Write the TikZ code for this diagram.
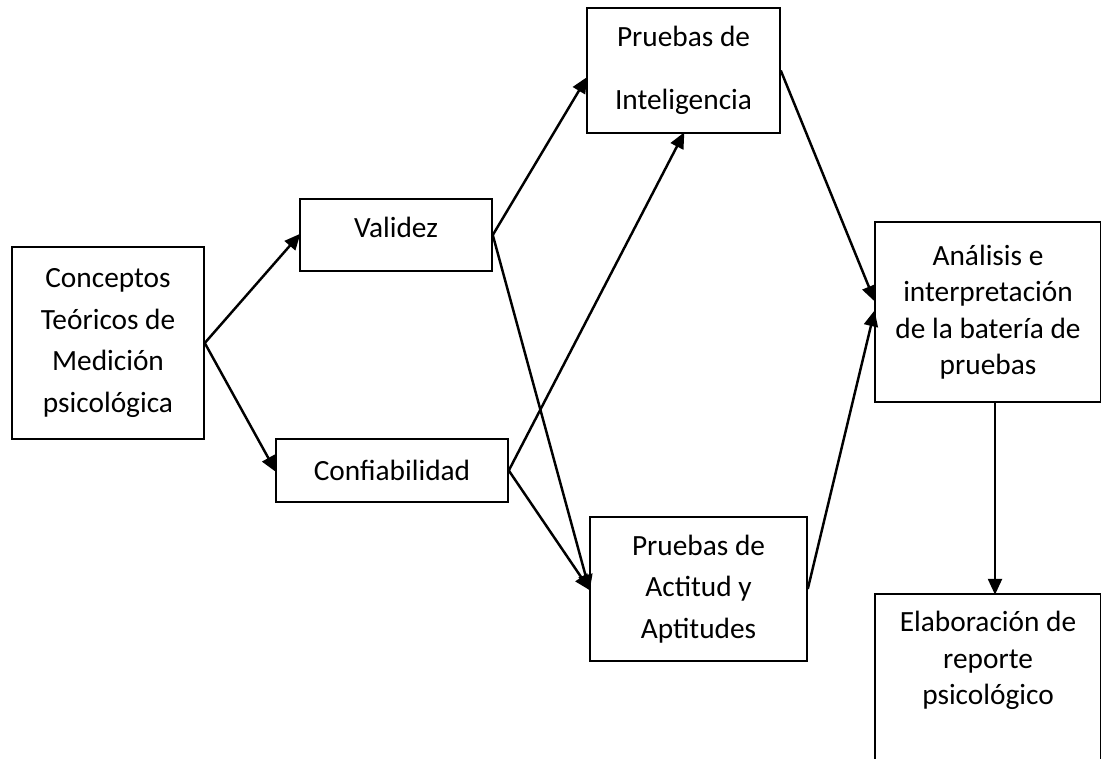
\documentclass[tikz,border=0pt]{standalone}
\usepackage{fontspec}
\setmainfont{Carlito}
\usetikzlibrary{arrows.meta}

\begin{document}
\begin{tikzpicture}[>={Triangle[length=0.32cm,width=0.28cm]},x=0.02cm,y=-0.02cm,
  box/.style={draw,line width=0.9pt,align=center,inner sep=2pt,font=\fontsize{16.7}{23.6}\selectfont},
  arr/.style={->,line width=1.4pt,shorten >=-1pt}]

\useasboundingbox (0,0) rectangle (1101,758);
\clip (0,0) rectangle (1101,758);

\node(conc) at (108,343)[box,minimum width=3.84cm,minimum height=3.84cm] {Conceptos \\ Teóricos de \\ Medición \\ psicológica};
\node(val) at (396,235)[box,minimum width=3.84cm,minimum height=1.44cm,text depth=0.3cm] {Validez};
\node(conf) at (392,470.5)[box,minimum width=4.64cm,minimum height=1.26cm] {Confiabilidad};
\node(intel) at (683.5,70.5)[box,minimum width=3.86cm,minimum height=2.5cm,font=\fontsize{16.7}{35.7}\selectfont] {Pruebas de \\ Inteligencia};
\node(act) at (698.5,589)[box,minimum width=4.34cm,minimum height=2.88cm] {Pruebas de \\ Actitud y \\ Aptitudes};
\node(ana) at (988,312)[box,minimum width=4.52cm,minimum height=3.6cm,font=\fontsize{16.7}{20.7}\selectfont] {Análisis e \\ interpretación \\ de la batería de \\ pruebas};
\node(ela) at (988,593)[box,anchor=north,minimum width=4.52cm,text depth=4cm,inner ysep=10pt,font=\fontsize{16.7}{20.7}\selectfont] {Elaboración de \\ reporte \\ psicológico};

\draw[arr] (conc.east) -- (val.west);
\draw[arr] (conc.east) -- (conf.west);
\draw[arr] (val.east) -- ([yshift=-0.16cm]intel.west);
\draw[arr] (val.east) -- (act.west);
\draw[arr] (conf.east) -- (intel.south);
\draw[arr] (conf.east) -- (act.west);
\draw[arr] (intel.east) -- ([yshift=0.24cm]ana.west);
\draw[arr] (act.east) -- (ana.west);
\draw[arr] ([xshift=0.14cm]ana.south) -- ([xshift=0.14cm]ela.north);

\end{tikzpicture}
\end{document}
